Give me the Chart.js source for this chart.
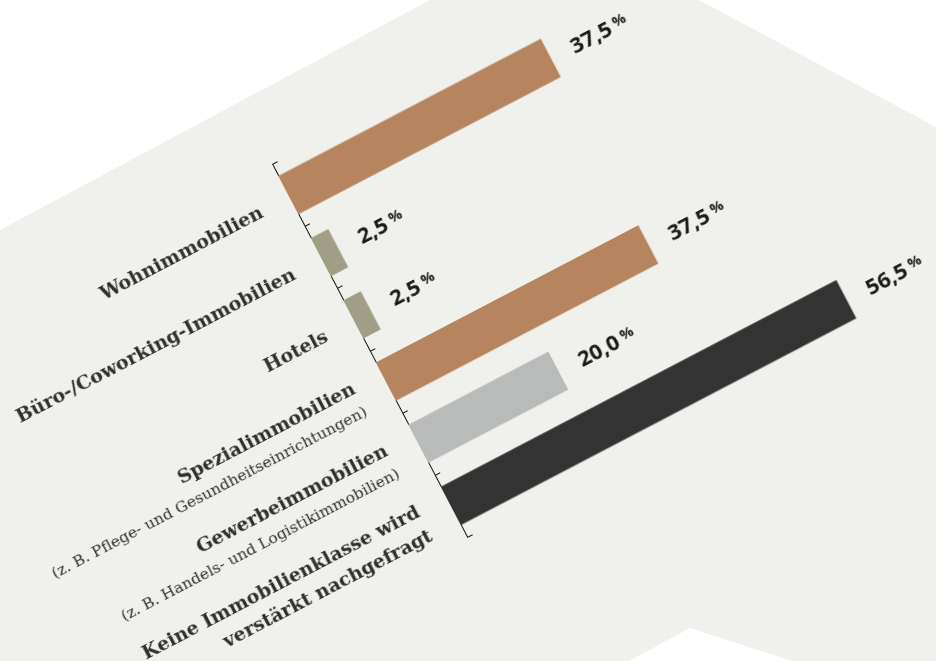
<!DOCTYPE html>
<html>
<head>
<meta charset="utf-8">
<script src="https://cdn.jsdelivr.net/npm/chart.js@4"></script>
<style>
  html, body { margin: 0; padding: 0; background: #ffffff; overflow: hidden; }
  body { width: 936px; height: 661px; position: relative; }
  #bg {
    position: absolute; left: 0; top: 0; width: 936px; height: 661px;
    background: #f0f1ec;
    clip-path: polygon(0 230px, 430px 0, 699px 0, 936px 127px, 936px 661px, 792px 661px, 690px 628px, 629px 661px, 0 661px);
  }
  #wrap {
    position: absolute; left: -128px; top: 144px;
    width: 996px; height: 461px;
    transform: rotate(-27.6deg);
  }
</style>
</head>
<body>
<div id="bg"></div>
<div id="wrap"><canvas id="chart" width="996" height="461"></canvas></div>
<script>
  // data
  const categories = [
    ["Wohnimmobilien"],
    ["Büro-/Coworking-Immobilien"],
    ["Hotels"],
    ["Spezialimmobilien"],
    ["Gewerbeimmobilien"],
    ["Keine Immobilienklasse wird", "verstärkt nachgefragt"]
  ];
  const subtitles = ["", "", "", "(z. B. Pflege- und Gesundheitseinrichtungen)", "(z. B. Handels- und Logistikimmobilien)", ""];
  const shares = [37.5, 2.5, 2.5, 37.5, 20.0, 56.5];
  const barColors = ["#b6855f", "#a09f85", "#a09f85", "#b6855f", "#b9baba", "#333333"];

  const fmt = v => v.toFixed(1).replace(".", ",");

  // small ticks on the right side of the category axis
  const axisTicks = {
    id: "axisTicks",
    afterDraw(chart) {
      const ctx = chart.ctx;
      const y = chart.scales.y;
      const left = chart.chartArea.left;
      ctx.save();
      ctx.strokeStyle = "#111";
      ctx.lineWidth = 1;
      for (let i = 0; i <= categories.length; i++) {
        const py = Math.round(y.getPixelForValue(i - 0.5)) + 0.5;
        ctx.beginPath();
        ctx.moveTo(left, py);
        ctx.lineTo(left + 6, py);
        ctx.stroke();
      }
      ctx.restore();
    }
  };

  // category names left of the axis, values after the bars
  const textLabels = {
    id: "textLabels",
    afterDraw(chart) {
      const ctx = chart.ctx;
      const y = chart.scales.y;
      const x0 = chart.chartArea.left - 31;
      ctx.save();
      ctx.textAlign = "right";
      ctx.textBaseline = "alphabetic";
      categories.forEach((lines, i) => {
        const cy = y.getPixelForValue(i);
        ctx.fillStyle = "#2f2f2f";
        ctx.font = "bold 19px 'DejaVu Serif'";
        if (subtitles[i]) {
          ctx.fillText(lines[0], x0, cy - 4);
          ctx.font = "15.5px 'DejaVu Serif'";
          ctx.fillText(subtitles[i], x0, cy + 21);
        } else if (lines.length > 1) {
          ctx.fillText(lines[0], x0, cy - 5);
          ctx.fillText(lines[1], x0, cy + 22);
        } else {
          ctx.fillText(lines[0], x0, cy + 8);
        }
      });

      const meta = chart.getDatasetMeta(0);
      ctx.textAlign = "left";
      ctx.fillStyle = "#1a1a1a";
      meta.data.forEach((bar, i) => {
        const txt = fmt(shares[i]);
        const bx = bar.x + 23;
        const by = bar.y + 8;
        ctx.font = "700 22px 'Open Sans'";
        ctx.fillText(txt, bx, by);
        const w = ctx.measureText(txt).width;
        ctx.font = "700 15px 'Open Sans'";
        ctx.fillText("%", bx + w + 4, by - 5);
      });
      ctx.restore();
    }
  };

  const chart = new Chart(document.getElementById("chart").getContext("2d"), {
    type: "bar",
    data: {
      labels: categories,
      datasets: [{
        data: shares,
        backgroundColor: barColors,
        borderWidth: 0,
        barPercentage: 0.615,
        categoryPercentage: 1
      }]
    },
    options: {
      indexAxis: "y",
      responsive: false,
      animation: false,
      devicePixelRatio: 1,
      layout: { padding: { left: 400, top: 20, right: 114, bottom: 20 } },
      scales: {
        x: { display: false, min: 0, max: 60 },
        y: {
          grid: { display: false },
          ticks: { display: false },
          border: { display: true, color: "#111", width: 1 }
        }
      },
      plugins: { legend: { display: false }, tooltip: { enabled: false } }
    },
    plugins: [axisTicks, textLabels]
  });

  // pivot the whole chart around the top of its category axis
  const area = chart.chartArea;
  const wrap = document.getElementById("wrap");
  wrap.style.transformOrigin = area.left + "px " + area.top + "px";
  wrap.style.left = (272 - area.left) + "px";
  wrap.style.top = (164 - area.top) + "px";
</script>
</body>
</html>
